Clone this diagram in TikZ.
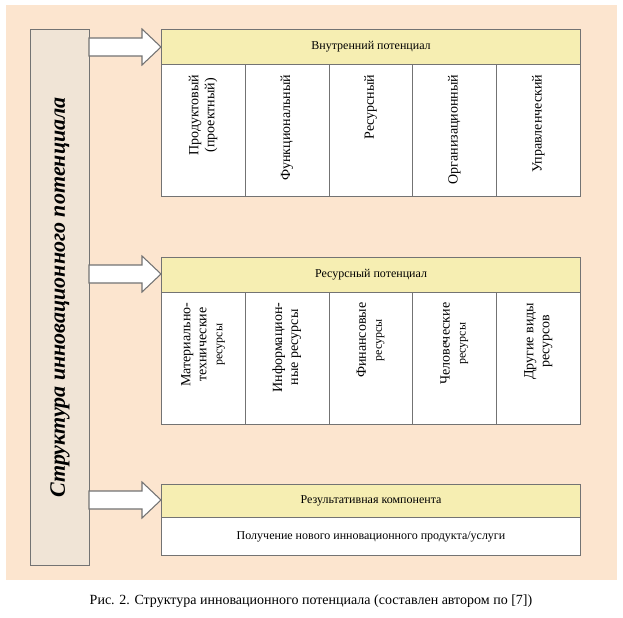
\documentclass[tikz,border=0pt]{standalone}
\usepackage{fontspec}
\setmainfont{Liberation Serif}
\begin{document}
\begin{tikzpicture}[x=0.75pt,y=-0.75pt,
  box/.style={draw=black!55,line width=0.8pt},
  vt/.style={rotate=90,anchor=east,align=center,font=\fontsize{10.5}{12}\selectfont},
  ht/.style={font=\fontsize{9}{11}\selectfont},
  arr/.style={draw=black!55,fill=white,line width=0.8pt}]
\definecolor{bgc}{RGB}{252,229,207}
\definecolor{barc}{RGB}{240,228,214}
\definecolor{hdrc}{RGB}{246,238,178}
\useasboundingbox (0,0) rectangle (623,617);
\fill[white] (0,0) rectangle (623,617);
\fill[bgc] (6,5) rectangle (617,580);
% left bar
\node[box,fill=barc,minimum width=44pt,minimum height=402pt,anchor=north west] (bar) at (30,29) {};
\node[rotate=90,font=\bfseries\itshape\fontsize{16.5}{18}\selectfont] (title) at (bar.center) {Структура инновационного потенциала};
% arrows
\foreach \y/\n in {47/a1,274/a2,500/a3}{
  \draw[arr] (89,\y-9) -- (142,\y-9) -- (142,\y-18) -- (161,\y) -- (142,\y+18) -- (142,\y+9) -- (89,\y+9) -- cycle;
  \coordinate (\n) at (161,\y);
}
% block 1
\node[box,fill=hdrc,minimum width=314.25pt,minimum height=26.25pt,anchor=north west] (h1) at (161,29) {};
\node[ht] (h1t) at (h1.center) {Внутренний потенциал};
\foreach \i/\t in {0/{Продуктовый\\(проектный)},1/Функциональный,2/Ресурсный,3/Организационный,4/Управленческий}{
  \node[box,fill=white,minimum width=63pt,minimum height=99pt,anchor=north west] (c1\i) at (161+\i*83.8,64) {};
  \node[vt] (c1t\i) at (161+\i*83.8+42,70) {\t};
}
% block 2
\node[box,fill=hdrc,minimum width=314.25pt,minimum height=26.25pt,anchor=north west] (h2) at (161,257) {};
\node[ht] (h2t) at (h2.center) {Ресурсный потенциал};
\foreach \i in {0,...,4}{
  \node[box,fill=white,minimum width=63pt,minimum height=99pt,anchor=north west] (c2\i) at (161+\i*83.8,292) {};
}
\foreach \i/\t in {0/{Материально-\\технические\\{\fontsize{9}{10}\selectfont ресурсы}},1/{Информацион-\\ные ресурсы},2/{Финансовые\\{\fontsize{9}{10}\selectfont ресурсы}},3/{Человеческие\\{\fontsize{9}{10}\selectfont ресурсы}},4/{Другие виды\\ресурсов}}{
  \node[vt] (c2t\i) at (161+\i*83.8+42,298) {\t};
}
% block 3
\node[box,fill=hdrc,minimum width=314.25pt,minimum height=25pt,anchor=north west] (h3) at (161,484) {};
\node[ht] (h3t) at (h3.center) {Результативная компонента};
\node[box,fill=white,minimum width=314.25pt,minimum height=28.5pt,anchor=north west] (r3) at (161,517) {};
\node[ht] (r3t) at (r3.center) {Получение нового инновационного продукта/услуги};
% caption
\node[font=\fontsize{10.5}{12}\selectfont] (cap) at (311,601) {Рис. 2. Структура инновационного потенциала (составлен автором по [7])};
\end{tikzpicture}
\end{document}
